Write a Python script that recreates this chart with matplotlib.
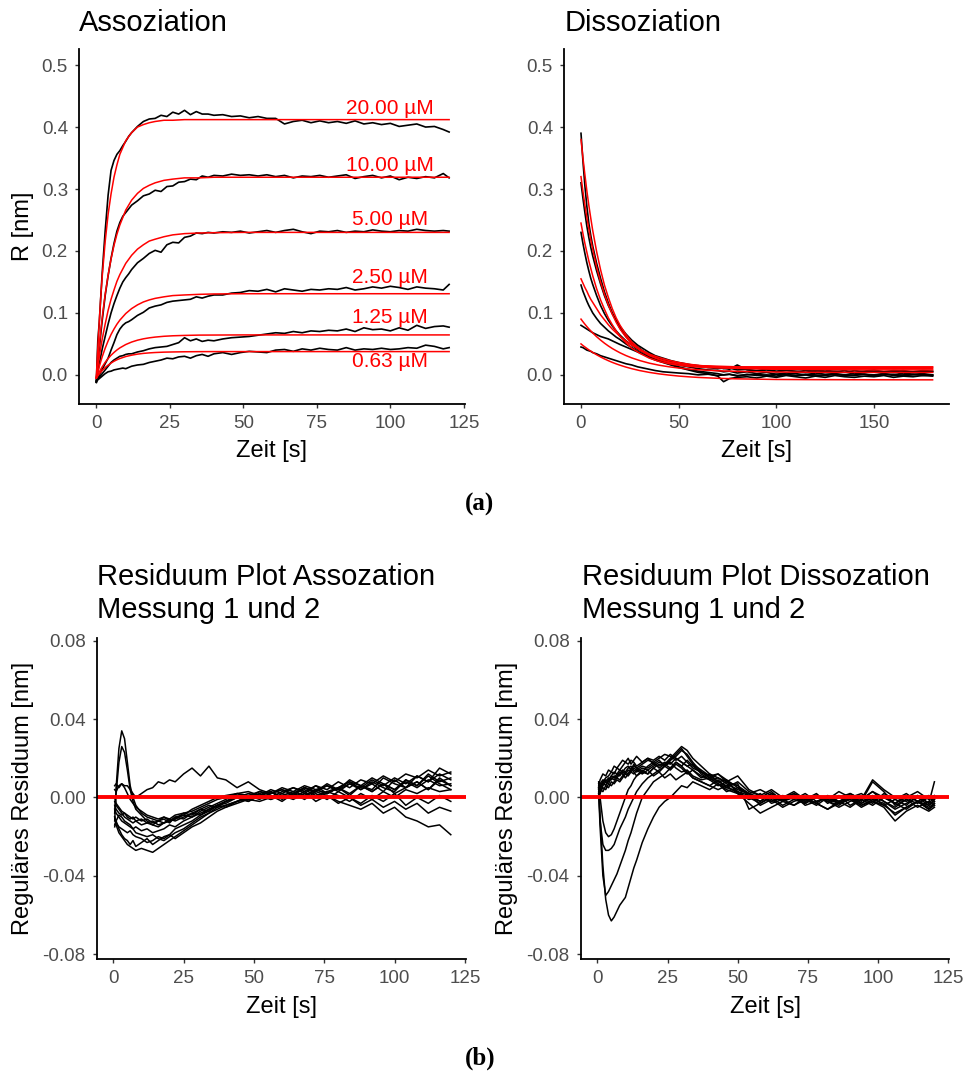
import matplotlib
matplotlib.use("Agg")
import matplotlib.pyplot as plt

plt.rcParams['font.family'] = ['Liberation Sans', 'DejaVu Sans']

# ---------------- association (top left) ----------------
t_assoc = [0, 0.5, 1, 1.5, 2,
           3, 4, 5, 6, 7, 8, 9, 10, 11, 12,
           14, 16, 18, 20, 22, 24, 26, 28, 30, 32, 34, 36, 38, 40,
           43, 46, 49, 52, 55, 58, 61, 64, 67, 70, 73, 76, 79,
           82, 85, 88, 91, 94, 97, 100, 103, 106, 109, 112, 115, 118, 120]

a20 = [-0.010, 0.055, 0.085, 0.125, 0.165,
       0.232, 0.290, 0.330, 0.346, 0.356, 0.362, 0.370, 0.377, 0.385, 0.391,
       0.401, 0.409, 0.413, 0.414, 0.419, 0.417, 0.424, 0.421, 0.427, 0.420, 0.425, 0.421, 0.421, 0.419,
       0.420, 0.417, 0.418, 0.415, 0.417, 0.414, 0.414, 0.405, 0.409, 0.411, 0.407, 0.410, 0.407,
       0.409, 0.406, 0.410, 0.405, 0.407, 0.404, 0.406, 0.401, 0.403, 0.405, 0.400, 0.401, 0.396, 0.392]
a10 = [-0.012, 0.020, 0.042, 0.066, 0.088,
       0.128, 0.160, 0.188, 0.212, 0.232, 0.246, 0.256, 0.262, 0.268, 0.274,
       0.281, 0.289, 0.292, 0.298, 0.296, 0.304, 0.305, 0.311, 0.312, 0.316, 0.315, 0.321, 0.319, 0.322,
       0.321, 0.324, 0.322, 0.323, 0.321, 0.323, 0.320, 0.322, 0.318, 0.321, 0.320, 0.322, 0.319,
       0.321, 0.323, 0.317, 0.320, 0.322, 0.318, 0.321, 0.315, 0.319, 0.317, 0.320, 0.318, 0.325, 0.318]
a5 = [-0.012, 0.005, 0.018, 0.030, 0.042,
      0.062, 0.082, 0.100, 0.115, 0.128, 0.140, 0.150, 0.157, 0.163, 0.170,
      0.181, 0.188, 0.196, 0.201, 0.198, 0.210, 0.214, 0.213, 0.222, 0.224, 0.229, 0.228, 0.230, 0.229,
      0.231, 0.230, 0.232, 0.229, 0.231, 0.233, 0.230, 0.233, 0.235, 0.231, 0.228, 0.232, 0.231,
      0.233, 0.230, 0.232, 0.231, 0.234, 0.232, 0.231, 0.233, 0.232, 0.235, 0.233, 0.232, 0.233, 0.232]
a2_5 = [-0.012, -0.006, -0.001, 0.004, 0.009,
        0.018, 0.027, 0.040, 0.052, 0.065, 0.074, 0.080, 0.084, 0.086, 0.089,
        0.096, 0.101, 0.108, 0.111, 0.113, 0.117, 0.119, 0.120, 0.121, 0.122, 0.126, 0.124, 0.127, 0.129,
        0.129, 0.132, 0.133, 0.136, 0.135, 0.138, 0.134, 0.139, 0.137, 0.135, 0.138, 0.137, 0.139,
        0.138, 0.141, 0.137, 0.139, 0.142, 0.140, 0.143, 0.141, 0.138, 0.142, 0.140, 0.139, 0.137, 0.146]
a1_25 = [-0.010, -0.007, -0.004, -0.001, 0.002,
         0.008, 0.014, 0.020, 0.024, 0.027, 0.030, 0.031, 0.033, 0.034, 0.034,
         0.037, 0.039, 0.042, 0.044, 0.045, 0.046, 0.049, 0.052, 0.060, 0.055, 0.058, 0.054, 0.056, 0.055,
         0.058, 0.060, 0.061, 0.062, 0.064, 0.066, 0.068, 0.067, 0.070, 0.068, 0.071, 0.070, 0.072,
         0.071, 0.074, 0.070, 0.076, 0.073, 0.074, 0.071, 0.076, 0.072, 0.080, 0.075, 0.078, 0.079, 0.077]
a0_63 = [-0.010, -0.008, -0.006, -0.004, -0.002,
         0.002, 0.005, 0.006, 0.008, 0.009, 0.010, 0.011, 0.010, 0.012, 0.014,
         0.016, 0.017, 0.020, 0.022, 0.024, 0.027, 0.026, 0.029, 0.030, 0.027, 0.031, 0.033, 0.030, 0.034,
         0.036, 0.033, 0.036, 0.038, 0.037, 0.036, 0.040, 0.041, 0.038, 0.042, 0.040, 0.043, 0.041,
         0.040, 0.044, 0.040, 0.042, 0.041, 0.043, 0.041, 0.042, 0.044, 0.043, 0.048, 0.046, 0.042, 0.044]

t_fit = [0, 0.5, 1, 1.5, 2, 3, 4, 5, 6, 7, 8, 10, 12, 14, 16, 18, 20, 23, 26, 30, 35, 40, 50, 60, 80, 100, 120]
fit20 = [-0.005, 0.044, 0.087, 0.126, 0.159, 0.215, 0.259, 0.292, 0.319, 0.339, 0.356, 0.378, 0.391, 0.400,
         0.404, 0.407, 0.409, 0.411, 0.411, 0.412, 0.412, 0.412, 0.412, 0.412, 0.412, 0.412, 0.412]
fit10 = [-0.005, 0.023, 0.048, 0.072, 0.093, 0.130, 0.161, 0.187, 0.209, 0.227, 0.242, 0.266, 0.282, 0.293,
         0.301, 0.306, 0.310, 0.314, 0.316, 0.318, 0.318, 0.319, 0.319, 0.319, 0.319, 0.319, 0.319]
fit5 = [-0.005, 0.013, 0.029, 0.044, 0.058, 0.082, 0.104, 0.122, 0.137, 0.151, 0.162, 0.180, 0.193, 0.203,
        0.210, 0.216, 0.219, 0.223, 0.226, 0.228, 0.229, 0.2295, 0.230, 0.230, 0.230, 0.230, 0.230]
fit2_5 = [-0.005, 0.0045, 0.0134, 0.0216, 0.0293, 0.043, 0.0548, 0.0652, 0.074, 0.0818, 0.0884, 0.099, 0.107,
          0.113, 0.1177, 0.121, 0.1235, 0.126, 0.128, 0.129, 0.130, 0.1306, 0.131, 0.131, 0.131, 0.131, 0.131]
fit1_25 = [-0.005, 0.000, 0.0047, 0.009, 0.013, 0.0202, 0.0263, 0.0317, 0.0362, 0.0402, 0.0436, 0.049, 0.053,
           0.056, 0.0582, 0.0598, 0.061, 0.0623, 0.0631, 0.0637, 0.0642, 0.0643, 0.0645, 0.0645, 0.0645,
           0.0645, 0.0645]
fit0_63 = [-0.005, -0.0016, 0.0016, 0.0044, 0.0071, 0.0118, 0.0157, 0.0191, 0.022, 0.0244, 0.0264, 0.0296,
           0.0318, 0.0335, 0.0347, 0.0355, 0.0361, 0.0367, 0.037, 0.0373, 0.0375, 0.0376, 0.0376, 0.0376,
           0.0376, 0.0376, 0.0376]

conc_labels = ["20.00 µM", "10.00 µM", "5.00 µM", "2.50 µM", "1.25 µM", "0.63 µM"]
label_y = [0.430, 0.338, 0.251, 0.157, 0.092, 0.021]

# ---------------- dissociation (top right) ----------------
t_diss = [0, 1, 2, 3, 4, 5, 6,
          8, 10, 12, 14, 16, 18, 20,
          23, 26, 29, 32, 35, 38,
          42, 46, 50, 55, 60, 65, 70, 73, 76,
          80, 85, 90, 95, 100, 105, 110, 115, 120, 125, 130,
          135, 140, 145, 150, 155, 160, 165, 170, 175, 180]

d1 = [0.390, 0.345, 0.305, 0.272, 0.245, 0.225, 0.208,
      0.180, 0.156, 0.134, 0.116, 0.100, 0.087, 0.075,
      0.062, 0.052, 0.045, 0.038, 0.033, 0.029,
      0.024, 0.021, 0.019, 0.016, 0.015, 0.012, 0.013, 0.010, 0.011,
      0.008, 0.009, 0.006, 0.008, 0.005, 0.007, 0.006, 0.004, 0.007, 0.005, 0.006,
      0.004, 0.007, 0.005, 0.006, 0.004, 0.005, 0.007, 0.004, 0.006, 0.005]
d2 = [0.310, 0.285, 0.262, 0.240, 0.222, 0.206, 0.192,
      0.168, 0.147, 0.128, 0.112, 0.099, 0.088, 0.078,
      0.066, 0.056, 0.048, 0.042, 0.036, 0.031,
      0.027, 0.023, 0.020, 0.017, 0.014, 0.012, 0.010, 0.011, 0.009,
      0.016, 0.008, 0.007, 0.009, 0.006, 0.008, 0.005, 0.007, 0.006, 0.008, 0.005,
      0.007, 0.004, 0.006, 0.008, 0.005, 0.007, 0.006, 0.005, 0.007, 0.006]
d3 = [0.230, 0.212, 0.196, 0.181, 0.168, 0.156, 0.146,
      0.128, 0.112, 0.099, 0.088, 0.079, 0.071, 0.064,
      0.055, 0.048, 0.041, 0.036, 0.031, 0.027,
      0.022, 0.019, 0.016, 0.013, 0.010, 0.008, 0.007, 0.005, 0.006,
      0.003, 0.005, 0.002, 0.004, 0.001, 0.003, 0.002, 0.000, 0.003, 0.001, 0.002,
      0.000, 0.003, 0.001, -0.001, 0.002, 0.000, 0.003, 0.001, 0.002, 0.000]
d4 = [0.145, 0.135, 0.127, 0.119, 0.112, 0.106, 0.100,
      0.091, 0.083, 0.077, 0.071, 0.066, 0.061, 0.057,
      0.050, 0.044, 0.038, 0.033, 0.028, 0.024,
      0.020, 0.016, 0.012, 0.008, 0.004, 0.002, -0.002, -0.011, -0.006,
      -0.004, -0.003, -0.005, -0.002, -0.004, -0.001, -0.003, -0.005, -0.002, -0.004, -0.001,
      -0.003, -0.004, -0.002, -0.003, -0.001, -0.004, -0.002, -0.003, -0.001, -0.002]
d5 = [0.080, 0.078, 0.076, 0.074, 0.072, 0.070, 0.068,
      0.065, 0.062, 0.060, 0.058, 0.055, 0.052, 0.049,
      0.045, 0.041, 0.037, 0.033, 0.029, 0.025,
      0.021, 0.017, 0.013, 0.009, 0.006, 0.004, 0.002, 0.000, 0.001,
      -0.002, 0.001, -0.001, 0.000, -0.002, 0.001, -0.001, 0.000, -0.002, 0.000, 0.001,
      -0.001, 0.000, 0.001, -0.002, 0.000, 0.001, -0.001, 0.000, 0.001, -0.001]
d6 = [0.045, 0.044, 0.042, 0.040, 0.039, 0.038, 0.036,
      0.034, 0.031, 0.029, 0.027, 0.025, 0.023, 0.021,
      0.018, 0.016, 0.013, 0.011, 0.009, 0.007,
      0.005, 0.004, 0.003, 0.002, 0.000, 0.001, -0.001, 0.000, 0.001,
      -0.001, 0.000, 0.001, -0.001, 0.001, 0.000, -0.001, 0.001, 0.000, -0.001, 0.001,
      0.000, -0.001, 0.001, 0.000, 0.002, -0.001, 0.000, 0.001, -0.001, 0.000]

t_dfit = [0, 1, 2, 3, 4, 5, 6, 8, 10, 12, 14, 16, 18, 20, 23, 26, 30, 35, 40, 45, 50, 55, 60, 70, 80,
          100, 120, 150, 180]
dfitA = [0.380, 0.350, 0.323, 0.297, 0.274, 0.253, 0.233, 0.199, 0.170, 0.145, 0.125, 0.107, 0.092, 0.080,
         0.065, 0.053, 0.042, 0.032, 0.025, 0.021, 0.018, 0.016, 0.015, 0.014, 0.013, 0.013, 0.013, 0.013, 0.013]
dfitB = [0.320, 0.296, 0.274, 0.254, 0.236, 0.218, 0.203, 0.174, 0.150, 0.130, 0.113, 0.098, 0.085, 0.074,
         0.061, 0.050, 0.040, 0.031, 0.025, 0.020, 0.018, 0.016, 0.0145, 0.013, 0.0125, 0.012, 0.012, 0.012,
         0.012]
dfitC = [0.245, 0.228, 0.212, 0.198, 0.184, 0.172, 0.160, 0.139, 0.121, 0.106, 0.092, 0.081, 0.071, 0.062,
         0.052, 0.043, 0.035, 0.027, 0.0217, 0.018, 0.0155, 0.0138, 0.0126, 0.0112, 0.0106, 0.010, 0.010,
         0.010, 0.010]
dfitD = [0.155, 0.148, 0.141, 0.135, 0.128, 0.122, 0.117, 0.107, 0.097, 0.089, 0.081, 0.074, 0.068, 0.062,
         0.0545, 0.048, 0.041, 0.0335, 0.028, 0.0235, 0.020, 0.0174, 0.0153, 0.0124, 0.0107, 0.009, 0.0084,
         0.008, 0.008]
dfitE = [0.090, 0.0858, 0.0818, 0.0780, 0.0744, 0.0710, 0.0677, 0.0616, 0.0562, 0.0512, 0.0467, 0.0426,
         0.0390, 0.0356, 0.0312, 0.0274, 0.0232, 0.0189, 0.0156, 0.0131, 0.0111, 0.0095, 0.0083, 0.0066,
         0.0056, 0.0046, 0.0042, 0.0040, 0.0040]
dfitF = [0.050, 0.0474, 0.0450, 0.0427, 0.0404, 0.0383, 0.0363, 0.0325, 0.0290, 0.0258, 0.0229, 0.0202,
         0.0178, 0.0156, 0.0126, 0.0100, 0.0070, 0.0040, 0.0016, -0.0003, -0.0019, -0.0031, -0.0041, -0.0055,
         -0.0064, -0.0074, -0.0077, -0.0079, -0.008]

# ---------------- residuals association (bottom left) ----------------
t_ra = [0.5, 1, 2, 3, 4, 5, 6, 7, 8,
        10, 12, 14, 16, 18, 20, 22,
        25, 28, 31, 34, 37, 40,
        44, 48, 52, 56, 60, 64, 68, 72, 76, 80,
        84, 88, 92, 96, 100, 104, 108, 112, 116, 120]

ra1 = [-0.012, 0.005, 0.025, 0.034, 0.030, 0.018, 0.006, 0.000, -0.004,
       -0.008, -0.010, -0.011, -0.012, -0.013, -0.012, -0.010,
       -0.009, -0.006, -0.004, -0.002, 0.000, 0.001,
       0.002, 0.001, 0.003, 0.002, 0.004, 0.002, 0.005, 0.003, 0.006, 0.004,
       0.007, 0.005, 0.009, 0.006, 0.010, 0.007, 0.011, 0.008, 0.012, 0.009]
ra2 = [-0.008, 0.002, 0.018, 0.026, 0.023, 0.014, 0.004, -0.002, -0.006,
       -0.009, -0.012, -0.014, -0.015, -0.013, -0.012, -0.011,
       -0.008, -0.007, -0.005, -0.003, -0.001, 0.000,
       0.002, 0.003, 0.001, 0.004, 0.002, 0.005, 0.003, 0.006, 0.002, 0.005,
       0.008, 0.004, 0.007, 0.003, 0.009, 0.005, 0.008, 0.004, 0.010, 0.006]
ra3 = [0.006, 0.007, 0.005, 0.007, 0.006, 0.006, 0.004, 0.002, 0.000,
       0.002, 0.004, 0.005, 0.008, 0.007, 0.009, 0.008,
       0.012, 0.015, 0.011, 0.016, 0.010, 0.009,
       0.005, 0.008, 0.004, 0.002, 0.005, 0.003, 0.001, 0.004, 0.006, 0.003,
       0.007, 0.004, 0.008, 0.005, 0.003, 0.009, 0.006, 0.012, 0.008, 0.010]
ra4 = [-0.010, -0.014, -0.018, -0.020, -0.022, -0.024, -0.025, -0.026, -0.027,
       -0.026, -0.027, -0.028, -0.026, -0.024, -0.022, -0.020,
       -0.017, -0.014, -0.011, -0.008, -0.006, -0.004,
       -0.002, -0.001, -0.002, 0.000, 0.001, -0.001, 0.002, 0.000, 0.003, 0.001,
       -0.002, 0.002, -0.001, 0.003, 0.000, 0.004, 0.002, 0.005, 0.003, 0.004]
ra5 = [-0.014, -0.012, -0.016, -0.019, -0.021, -0.022, -0.024, -0.022, -0.025,
       -0.023, -0.021, -0.024, -0.022, -0.020, -0.019, -0.021,
       -0.018, -0.015, -0.013, -0.010, -0.007, -0.005,
       -0.003, -0.001, 0.001, -0.001, 0.002, 0.000, 0.003, -0.002, 0.001, -0.003,
       0.000, -0.004, -0.001, -0.005, -0.002, -0.006, -0.003, -0.008, -0.005, -0.007]
ra6 = [-0.006, -0.008, -0.010, -0.012, -0.013, -0.014, -0.015, -0.016, -0.015,
       -0.017, -0.016, -0.018, -0.017, -0.016, -0.014, -0.015,
       -0.012, -0.010, -0.008, -0.006, -0.004, -0.002,
       0.000, 0.002, 0.001, 0.003, 0.000, 0.002, 0.004, 0.001, 0.003, 0.005,
       0.002, 0.006, 0.003, 0.007, 0.004, 0.008, 0.005, 0.009, 0.006, 0.007]
ra7 = [-0.002, -0.004, -0.006, -0.008, -0.010, -0.011, -0.012, -0.013, -0.012,
       -0.014, -0.013, -0.012, -0.014, -0.013, -0.011, -0.012,
       -0.010, -0.008, -0.006, -0.007, -0.004, -0.003,
       0.000, -0.002, 0.001, 0.003, 0.000, 0.002, -0.001, 0.003, 0.001, -0.002,
       -0.004, -0.006, -0.003, -0.008, -0.005, -0.010, -0.012, -0.015, -0.014, -0.019]
ra8 = [0.000, -0.003, -0.005, -0.007, -0.008, -0.009, -0.010, -0.011, -0.010,
       -0.012, -0.011, -0.013, -0.012, -0.010, -0.011, -0.009,
       -0.008, -0.009, -0.006, -0.004, -0.005, -0.002,
       0.001, -0.001, 0.002, 0.000, 0.003, 0.005, 0.002, 0.006, 0.004, 0.008,
       0.005, 0.009, 0.007, 0.011, 0.008, 0.012, 0.010, 0.014, 0.011, 0.013]
ra9 = [-0.015, -0.012, -0.009, -0.010, -0.012, -0.013, -0.014, -0.016, -0.018,
       -0.019, -0.020, -0.019, -0.021, -0.022, -0.020, -0.018,
       -0.016, -0.013, -0.010, -0.008, -0.005, -0.004,
       -0.002, 0.001, -0.001, 0.002, 0.004, 0.001, 0.005, 0.002, -0.001, 0.003,
       0.000, -0.003, 0.001, -0.002, 0.002, -0.004, 0.000, -0.003, 0.001, -0.002]
ra10 = [0.004, 0.003, 0.006, 0.007, 0.005, 0.002, -0.001, -0.003, -0.005,
        -0.007, -0.009, -0.010, -0.011, -0.010, -0.012, -0.011,
        -0.009, -0.010, -0.007, -0.005, -0.003, -0.001,
        0.002, 0.000, 0.003, 0.001, -0.002, 0.002, 0.005, 0.003, 0.007, 0.004,
        0.009, 0.006, 0.004, 0.010, 0.007, 0.005, 0.011, 0.008, 0.015, 0.012]
ra11 = [-0.010, -0.013, -0.015, -0.016, -0.017, -0.018, -0.017, -0.019, -0.020,
        -0.021, -0.023, -0.022, -0.020, -0.021, -0.019, -0.016,
        -0.014, -0.012, -0.009, -0.007, -0.004, -0.002,
        0.000, -0.002, 0.001, 0.003, -0.001, 0.002, 0.000, 0.004, 0.002, 0.005,
        0.001, 0.006, 0.003, 0.007, 0.002, 0.005, 0.008, 0.004, 0.009, 0.006]
ra12 = [-0.004, -0.006, -0.008, -0.009, -0.008, -0.010, -0.011, -0.010, -0.012,
        -0.011, -0.013, -0.014, -0.012, -0.011, -0.013, -0.010,
        -0.011, -0.008, -0.009, -0.006, -0.004, -0.005,
        -0.002, 0.000, 0.002, -0.001, 0.001, 0.003, 0.006, 0.004, 0.002, 0.005,
        0.008, 0.006, 0.010, 0.007, 0.004, 0.009, 0.006, 0.011, 0.007, 0.004]

# ---------------- residuals dissociation (bottom right) ----------------
t_rd = [0.5, 1, 2, 3, 4, 5, 6, 7, 8,
        9, 10, 11, 12, 13, 14,
        16, 18, 20, 22, 24, 26, 28, 30, 32, 34,
        37, 40, 43, 46,
        50, 54, 58, 62, 66, 70, 74, 78, 82, 86,
        90, 94, 98, 102, 106, 110, 114, 118, 120]

rd1 = [0.005, -0.010, -0.035, -0.052, -0.060, -0.063, -0.061, -0.058, -0.055,
       -0.053, -0.051, -0.046, -0.041, -0.036, -0.032,
       -0.023, -0.016, -0.010, -0.005, -0.002, 0.000, 0.003, 0.006, 0.005, 0.008,
       0.006, 0.004, 0.007, 0.003,
       0.005, 0.001, -0.002, 0.002, -0.001, 0.000, -0.003, 0.001, -0.002, -0.004,
       0.000, -0.003, 0.001, -0.002, -0.005, -0.001, -0.003, 0.000, -0.002]
rd2 = [0.002, -0.015, -0.040, -0.050, -0.048, -0.045, -0.042, -0.039, -0.035,
       -0.031, -0.027, -0.022, -0.018, -0.013, -0.008,
       0.000, 0.004, 0.008, 0.010, 0.012, 0.015, 0.018, 0.016, 0.013, 0.010,
       0.008, 0.006, 0.004, 0.006,
       0.002, 0.000, -0.003, 0.001, -0.002, 0.002, -0.001, -0.004, 0.000, -0.002,
       0.001, -0.003, 0.000, -0.004, -0.001, 0.002, -0.002, -0.005, -0.003]
rd3 = [0.005, -0.012, -0.024, -0.027, -0.027, -0.026, -0.024, -0.020, -0.016,
       -0.013, -0.010, -0.006, -0.003, 0.000, 0.003,
       0.007, 0.010, 0.012, 0.014, 0.016, 0.019, 0.021, 0.024, 0.022, 0.018,
       0.013, 0.010, 0.007, 0.004,
       0.002, -0.001, 0.001, -0.002, 0.000, 0.003, -0.001, 0.002, -0.003, 0.000,
       0.002, -0.001, 0.003, 0.000, -0.003, 0.001, -0.002, 0.001, -0.001]
rd4 = [0.008, 0.000, -0.012, -0.018, -0.020, -0.019, -0.016, -0.012, -0.008,
       -0.004, 0.000, 0.004, 0.006, 0.009, 0.011,
       0.013, 0.012, 0.015, 0.017, 0.016, 0.019, 0.022, 0.025, 0.021, 0.017,
       0.012, 0.009, 0.006, 0.008,
       0.003, 0.001, -0.002, 0.002, -0.001, -0.004, 0.000, -0.003, 0.001, -0.002,
       -0.005, -0.001, -0.004, 0.000, -0.003, -0.006, -0.002, -0.004, -0.001]
rd5 = [0.003, 0.006, 0.008, 0.010, 0.011, 0.013, 0.012, 0.015, 0.014,
       0.016, 0.018, 0.017, 0.019, 0.018, 0.016,
       0.018, 0.020, 0.019, 0.021, 0.019, 0.022, 0.020, 0.018, 0.016, 0.014,
       0.011, 0.009, 0.010, 0.007,
       0.004, 0.002, 0.000, 0.003, -0.002, 0.001, -0.003, 0.000, -0.002, 0.001,
       -0.004, -0.001, 0.003, -0.002, -0.006, -0.003, 0.000, -0.004, -0.002]
rd6 = [0.000, 0.004, 0.007, 0.009, 0.008, 0.011, 0.013, 0.012, 0.014,
       0.013, 0.015, 0.016, 0.014, 0.017, 0.015,
       0.013, 0.016, 0.018, 0.015, 0.017, 0.020, 0.023, 0.026, 0.024, 0.020,
       0.016, 0.012, 0.010, 0.008,
       0.011, 0.004, 0.001, -0.002, 0.001, -0.001, 0.002, -0.002, 0.000, -0.003,
       0.001, -0.002, 0.008, 0.003, -0.004, -0.001, -0.005, -0.002, -0.004]
rd7 = [0.006, 0.009, 0.012, 0.011, 0.014, 0.013, 0.016, 0.015, 0.017,
       0.019, 0.018, 0.020, 0.017, 0.019, 0.021,
       0.018, 0.020, 0.017, 0.019, 0.016, 0.018, 0.015, 0.013, 0.014, 0.011,
       0.009, 0.010, 0.007, 0.005,
       0.003, -0.001, 0.002, -0.003, -0.001, 0.001, -0.004, -0.002, 0.000, -0.003,
       -0.001, -0.005, -0.002, -0.004, -0.008, -0.005, -0.002, -0.006, -0.004]
rd8 = [0.004, 0.002, 0.006, 0.008, 0.007, 0.010, 0.009, 0.011, 0.013,
       0.012, 0.010, 0.012, 0.015, 0.013, 0.011,
       0.014, 0.012, 0.015, 0.013, 0.016, 0.014, 0.017, 0.015, 0.012, 0.014,
       0.010, 0.012, 0.008, 0.006,
       0.007, -0.006, -0.003, 0.000, -0.004, -0.001, -0.003, 0.001, -0.002, -0.005,
       -0.002, 0.000, -0.003, 0.002, -0.001, -0.004, 0.001, -0.003, 0.000]
rd9 = [0.001, 0.003, 0.005, 0.004, 0.007, 0.006, 0.008, 0.010, 0.009,
       0.011, 0.013, 0.012, 0.014, 0.016, 0.015,
       0.017, 0.019, 0.018, 0.020, 0.022, 0.021, 0.019, 0.021, 0.018, 0.015,
       0.013, 0.011, 0.008, 0.009,
       0.005, 0.002, -0.004, -0.001, -0.005, -0.002, 0.000, -0.003, -0.006, -0.002,
       0.000, -0.004, -0.001, -0.003, -0.009, -0.005, -0.002, -0.006, -0.003]
rd10 = [0.007, 0.005, 0.008, 0.006, 0.009, 0.011, 0.010, 0.012, 0.011,
        0.013, 0.012, 0.014, 0.013, 0.015, 0.014,
        0.012, 0.014, 0.011, 0.013, 0.010, 0.012, 0.009, 0.011, 0.013, 0.010,
        0.008, 0.006, 0.009, 0.005,
        0.008, 0.003, 0.001, 0.004, 0.000, 0.002, -0.002, 0.001, -0.001, 0.003,
        0.000, 0.002, -0.002, 0.001, -0.003, 0.000, 0.003, -0.001, 0.001]
rd11 = [0.002, 0.004, 0.003, 0.006, 0.005, 0.008, 0.007, 0.009, 0.008,
        0.010, 0.012, 0.011, 0.013, 0.012, 0.014,
        0.016, 0.015, 0.017, 0.016, 0.018, 0.017, 0.020, 0.018, 0.016, 0.017,
        0.014, 0.011, 0.012, 0.009,
        0.002, -0.003, -0.008, -0.005, -0.002, -0.004, -0.001, -0.003, -0.006, -0.003,
        -0.001, -0.004, -0.002, -0.005, -0.012, -0.007, -0.004, -0.007, -0.005]
rd12 = [0.005, 0.007, 0.009, 0.008, 0.010, 0.009, 0.011, 0.010, 0.012,
        0.014, 0.013, 0.015, 0.016, 0.014, 0.013,
        0.015, 0.014, 0.016, 0.018, 0.017, 0.015, 0.018, 0.016, 0.019, 0.016,
        0.013, 0.010, 0.012, 0.008,
        0.006, 0.002, 0.004, 0.001, -0.002, 0.000, -0.002, 0.001, -0.001, -0.003,
        0.002, -0.001, 0.009, 0.004, 0.000, -0.002, 0.001, -0.003, 0.008]

# ---------------- figure ----------------
W, H = 965, 1074
fig = plt.figure(figsize=(W / 100, H / 100), dpi=100)


def px_axes(x0, y0, x1, y1):
    # axes box given in pixel coordinates of the output image
    return fig.add_axes([x0 / W, 1 - y1 / H, (x1 - x0) / W, (y1 - y0) / H])


def style(ax):
    ax.spines['top'].set_visible(False)
    ax.spines['right'].set_visible(False)
    for s in ['left', 'bottom']:
        ax.spines[s].set_linewidth(1.3)
    ax.tick_params(direction='out', length=3, width=1.0, color='#333333',
                   labelcolor='#4D4D4D', labelsize=13.5, pad=5)


def fig_text(x, y, s, **kw):
    return fig.text(x / W, 1 - y / H, s, **kw)


# association
ax1 = px_axes(79, 49, 465, 404)
for ys in [a20, a10, a5, a2_5, a1_25, a0_63]:
    ax1.plot(t_assoc, ys, color='black', lw=1.2)
for ys in [fit20, fit10, fit5, fit2_5, fit1_25, fit0_63]:
    ax1.plot(t_fit, ys, color='red', lw=1.1)
for lab, yl in zip(conc_labels, label_y):
    ax1.text(100, yl, lab, color='red', fontsize=15, ha='center', va='center')
ax1.set_xlim(-5.9, 125.4)
ax1.set_ylim(-0.047, 0.526)
ax1.set_xticks([0, 25, 50, 75, 100, 125])
ax1.set_yticks([0.0, 0.1, 0.2, 0.3, 0.4, 0.5])
ax1.set_yticklabels(["0.0", "0.1", "0.2", "0.3", "0.4", "0.5"])
style(ax1)

# dissociation
ax2 = px_axes(564, 49, 949, 404)
for ys in [d1, d2, d3, d4, d5, d6]:
    ax2.plot(t_diss, ys, color='black', lw=1.2)
for ys in [dfitA, dfitB, dfitC, dfitD, dfitE, dfitF]:
    ax2.plot(t_dfit, ys, color='red', lw=1.1)
ax2.set_xlim(-8.7, 188.4)
ax2.set_ylim(-0.047, 0.526)
ax2.set_xticks([0, 50, 100, 150])
ax2.set_yticks([0.0, 0.1, 0.2, 0.3, 0.4, 0.5])
ax2.set_yticklabels(["0.0", "0.1", "0.2", "0.3", "0.4", "0.5"])
style(ax2)

# residuals association
ax3 = px_axes(96.7, 638, 465.7, 959.3)
for ys in [ra1, ra2, ra3, ra4, ra5, ra6, ra7, ra8, ra9, ra10, ra11, ra12]:
    ax3.plot(t_ra, ys, color='black', lw=1.1)
ax3.axhline(0, color='red', lw=2.8)

# residuals dissociation
ax4 = px_axes(580.7, 638, 949.3, 959.3)
for ys in [rd1, rd2, rd3, rd4, rd5, rd6, rd7, rd8, rd9, rd10, rd11, rd12]:
    ax4.plot(t_rd, ys, color='black', lw=1.1)
ax4.axhline(0, color='red', lw=2.8)

for ax in [ax3, ax4]:
    ax.set_xlim(-5.9, 125.3)
    ax.set_ylim(-0.0826, 0.0814)
    ax.set_xticks([0, 25, 50, 75, 100, 125])
    ax.set_yticks([-0.08, -0.04, 0.0, 0.04, 0.08])
    ax.set_yticklabels(["-0.08", "-0.04", "0.00", "0.04", "0.08"])
    style(ax)

# titles
fig_text(79, 31, "Assoziation", fontsize=21, ha='left', va='baseline')
fig_text(565, 31, "Dissoziation", fontsize=21, ha='left', va='baseline')
fig_text(96.7, 585, "Residuum Plot Assozation", fontsize=21, ha='left', va='baseline')
fig_text(96.7, 618.3, "Messung 1 und 2", fontsize=21, ha='left', va='baseline')
fig_text(581.7, 585, "Residuum Plot Dissozation", fontsize=21, ha='left', va='baseline')
fig_text(581.7, 618.3, "Messung 1 und 2", fontsize=21, ha='left', va='baseline')

# axis titles
fig_text(272, 457.3, "Zeit [s]", fontsize=17, ha='center', va='baseline')
fig_text(756.5, 457.3, "Zeit [s]", fontsize=17, ha='center', va='baseline')
fig_text(281, 1013.3, "Zeit [s]", fontsize=17, ha='center', va='baseline')
fig_text(765, 1013.3, "Zeit [s]", fontsize=17, ha='center', va='baseline')
fig_text(23, 226.5, "R [nm]", fontsize=17, rotation=90, ha='center', va='center')
fig_text(23, 798, "Reguläres Residuum [nm]", fontsize=17, rotation=90, ha='center', va='center')
fig_text(507.5, 798, "Reguläres Residuum [nm]", fontsize=17, rotation=90, ha='center', va='center')

# sub-figure captions
fig_text(480, 504, "(a)", fontsize=18, fontweight='bold', family='Liberation Serif',
         ha='center', va='center')
fig_text(480, 1058, "(b)", fontsize=18, fontweight='bold', family='Liberation Serif',
         ha='center', va='center')

fig.savefig("out.png", dpi=100)
